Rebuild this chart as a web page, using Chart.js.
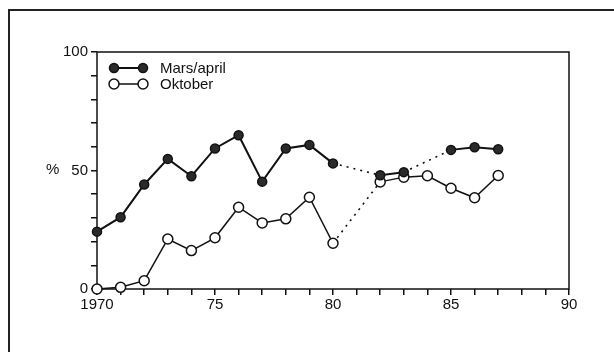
<!DOCTYPE html>
<html>
<head>
<meta charset="utf-8">
<script src="https://cdn.jsdelivr.net/npm/chart.js@4/dist/chart.umd.min.js"></script>
<style>
  html, body { margin: 0; padding: 0; background: #fff; }
  #wrap { position: relative; width: 614px; height: 352px; overflow: hidden; }
  #frame { position: absolute; left: 8px; top: 9px; width: 700px; height: 400px;
           border-left: 2px solid #222; border-top: 2px solid #222; }
  #pct { position: absolute; left: 46px; top: 160px; font: 15px "Liberation Sans", Arial, sans-serif; color: #111; }
</style>
</head>
<body>
<div id="wrap">
  <div id="frame"></div>
  <canvas id="c" width="614" height="352"></canvas>
  <div id="pct">%</div>
</div>
<script>
// データ (null = 欠測、点線でつなぐ)
const years = [1970, 1971, 1972, 1973, 1974, 1975, 1976, 1977, 1978, 1979, 1980, 1981, 1982, 1983, 1984, 1985, 1986, 1987];
const marsApril = [24.2, 30.3, 44.1, 54.9, 47.6, 59.3, 64.9, 45.3, 59.3, 60.8, 53.0, null, 48.0, 49.3, null, 58.7, 59.8, 59.0];
const oktober = [0, 0.7, 3.5, 21.1, 16.2, 21.6, 34.5, 27.9, 29.6, 38.7, 19.3, null, 45.2, 47.2, 47.8, 42.5, 38.5, 47.9];
const seriesNames = ['Mars/april', 'Oktober'];

// 目盛ラベル
const xTickValues = [1970, 1975, 1980, 1985, 1990];
const xTickLabels = ['1970', '75', '80', '85', '90'];
const yTickValues = [0, 50, 100];
const yTickLabels = ['0', '50', '100'];

const FONT = { family: '"Liberation Sans", Arial, sans-serif', size: 15 };
const INK = '#111';

// 欠測をまたぐ区間は点線
const gapDash = ctx => (ctx.p0.skip || ctx.p1.skip) ? [2, 5] : undefined;
const gapWidth = ctx => (ctx.p0.skip || ctx.p1.skip) ? 1.6 : undefined;

function toPoints(values) {
  return years.map((y, i) => ({ x: y, y: values[i] }));
}

// プロット枠
const boxPlugin = {
  id: 'box',
  beforeDatasetsDraw(chart) {
    const a = chart.chartArea;
    const ctx = chart.ctx;
    ctx.save();
    ctx.strokeStyle = INK;
    ctx.lineWidth = 1.5;
    ctx.strokeRect(a.left, a.top, a.right - a.left, a.bottom - a.top);
    ctx.restore();
  }
};

// 凡例 (マーカー2つを線でつなぐ形)
const legendPlugin = {
  id: 'pairLegend',
  afterDraw(chart) {
    const ctx = chart.ctx;
    const x0 = 114, x1 = 143, tx = 160;
    const rows = [68, 84];
    ctx.save();
    chart.data.datasets.forEach((ds, i) => {
      const y = rows[i];
      ctx.strokeStyle = INK;
      ctx.lineWidth = ds.borderWidth;
      ctx.beginPath();
      ctx.moveTo(x0, y);
      ctx.lineTo(x1, y);
      ctx.stroke();
      [x0, x1].forEach(x => {
        ctx.beginPath();
        ctx.arc(x, y, ds.pointRadius, 0, Math.PI * 2);
        ctx.fillStyle = ds.pointBackgroundColor;
        ctx.fill();
        ctx.lineWidth = ds.pointBorderWidth;
        ctx.stroke();
      });
      ctx.fillStyle = INK;
      ctx.font = FONT.size + 'px ' + FONT.family;
      ctx.textBaseline = 'middle';
      ctx.fillText(seriesNames[i], tx, y + 1);
    });
    ctx.restore();
  }
};

new Chart(document.getElementById('c'), {
  type: 'line',
  data: {
    datasets: [
      {
        label: seriesNames[0],
        data: toPoints(marsApril),
        borderColor: INK,
        borderWidth: 2,
        pointRadius: 4.5,
        pointBorderWidth: 1.5,
        pointBackgroundColor: '#2a2a2a',
        pointBorderColor: INK,
        spanGaps: true,
        clip: false,
        segment: { borderDash: gapDash, borderWidth: gapWidth }
      },
      {
        label: seriesNames[1],
        data: toPoints(oktober),
        borderColor: INK,
        borderWidth: 1.5,
        pointRadius: 5,
        pointBorderWidth: 1.5,
        pointBackgroundColor: '#fff',
        pointBorderColor: INK,
        spanGaps: true,
        clip: false,
        segment: { borderDash: gapDash, borderWidth: gapWidth }
      }
    ]
  },
  options: {
    responsive: false,
    animation: false,
    layout: { padding: { top: 52, right: 45, left: 0, bottom: 0 } },
    plugins: { legend: { display: false }, tooltip: { enabled: false } },
    scales: {
      x: {
        type: 'linear',
        min: 1970,
        max: 1990,
        border: { display: false },
        grid: { drawOnChartArea: false, drawTicks: true, tickLength: 6, color: INK, lineWidth: 1.5 },
        ticks: {
          stepSize: 1,
          autoSkip: false,
          maxRotation: 0,
          padding: 1,
          color: INK,
          font: FONT,
          callback: v => {
            const k = xTickValues.indexOf(v);
            return k >= 0 ? xTickLabels[k] : '';
          }
        },
        afterFit: s => { s.height = 63; }
      },
      y: {
        min: 0,
        max: 100,
        border: { display: false },
        grid: { drawOnChartArea: false, drawTicks: true, tickLength: 6, color: INK, lineWidth: 1.5 },
        ticks: {
          stepSize: 10,
          padding: 3,
          color: INK,
          font: FONT,
          callback: v => {
            const k = yTickValues.indexOf(v);
            return k >= 0 ? yTickLabels[k] : '';
          }
        },
        afterFit: s => { s.width = 97; }
      }
    }
  },
  plugins: [boxPlugin, legendPlugin]
});
</script>
</body>
</html>
